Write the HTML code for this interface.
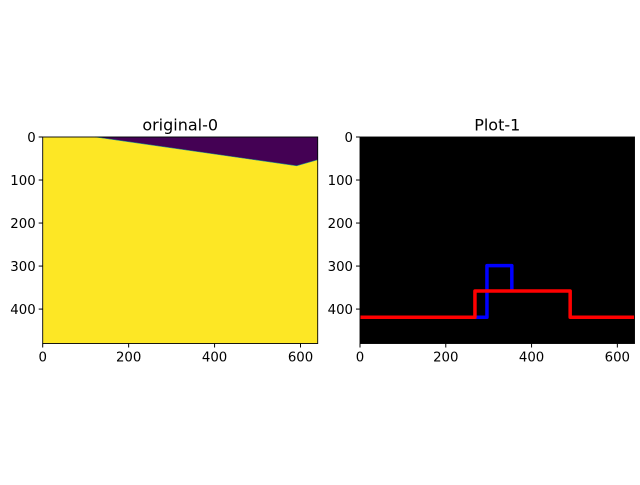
<!DOCTYPE html>
<html><head><meta charset="utf-8"><style>
body{margin:0;background:#fff;}
svg text{font-family:"DejaVu Sans","Liberation Sans",sans-serif;}
</style></head><body>
<svg id="fig" width="640" height="480" xmlns="http://www.w3.org/2000/svg"></svg>
<script>
const xTicks=[0,200,400,600];
const yTicks=[0,100,200,300,400];
const imgW=640, imgH=480;
const maskPoly=[[122,0],[591,67],[640,53],[640,0]];
const blueX=[0,296,296,354,354];
const blueY=[419,419,299,299,358];
const redX=[0,268,268,490,490,640];
const redY=[419,419,358,358,419,419];
const NS="http://www.w3.org/2000/svg";
const svg=document.getElementById('fig');
function mk(t,a,p){const e=document.createElementNS(NS,t);for(const k in a)e.setAttribute(k,a[k]);(p||svg).appendChild(e);return e;}
function axes(x0,x1,title,name){
  const y0=137,y1=343.5;
  const sx=v=>x0+v/imgW*(x1-x0), sy=v=>y0+v/imgH*(y1-y0);
  const g=mk('g',{});
  
  
  return {g,sx,sy,x0,x1,y0,y1,title};
}
function frame(A){
  const r=mk('rect',{x:A.x0,y:A.y0,width:A.x1-A.x0,height:A.y1-A.y0,fill:'none',stroke:'#000','stroke-width':0.9},A.g);
  
  xTicks.forEach(v=>{const x=A.sx(v);
    mk('line',{x1:x,x2:x,y1:A.y1,y2:A.y1+4,stroke:'#000'},A.g);
    const t=mk('text',{x:x,y:A.y1+18,'font-size':13.3,'text-anchor':'middle'},A.g);t.textContent=v;
    });
  yTicks.forEach(v=>{const y=A.sy(v);
    mk('line',{x1:A.x0-4,x2:A.x0,y1:y,y2:y,stroke:'#000'},A.g);
    const t=mk('text',{x:A.x0-7,y:y+4.8,'font-size':13.3,'text-anchor':'end'},A.g);t.textContent=v;
    });
  const t=mk('text',{x:(A.x0+A.x1)/2,y:A.y0-6.5,'font-size':16,'text-anchor':'middle'},A.g);t.textContent=A.title;
  
}
const L=axes(42.7,317.7,'original-0','left-subplot');
const bg=mk('rect',{x:L.x0,y:L.y0,width:L.x1-L.x0,height:L.y1-L.y0,fill:'#fde725'},L.g);

const pg=mk('polygon',{points:maskPoly.map(p=>L.sx(p[0])+','+L.sy(p[1])).join(' '),fill:'#440154',stroke:'#21918c','stroke-width':0.6},L.g);

frame(L);
const R=axes(360,634.5,'Plot-1','right-subplot');
const bk=mk('rect',{x:R.x0,y:R.y0,width:R.x1-R.x0,height:R.y1-R.y0,fill:'#000'},R.g);

const bl=mk('polyline',{points:blueX.map((x,i)=>R.sx(x)+','+R.sy(blueY[i])).join(' '),fill:'none',stroke:'#0000ff','stroke-width':3.5,'stroke-linejoin':'round'},R.g);

const rl=mk('polyline',{points:redX.map((x,i)=>R.sx(x)+','+R.sy(redY[i])).join(' '),fill:'none',stroke:'#ff0000','stroke-width':3.5,'stroke-linejoin':'round'},R.g);

frame(R);
</script>
</body></html>
